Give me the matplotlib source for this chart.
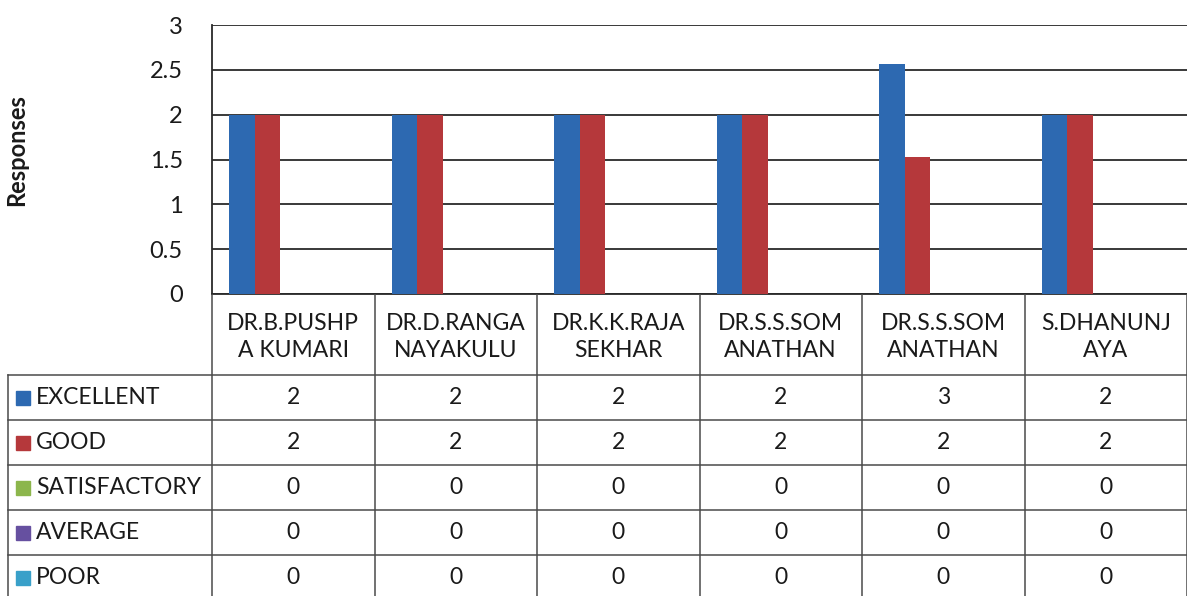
import numpy as np
import matplotlib
matplotlib.use('Agg')
import matplotlib.pyplot as plt

plt.rcParams['font.family'] = ['Lato', 'DejaVu Sans']

# --- data
teachers = ['DR.B.PUSHP\nA KUMARI', 'DR.D.RANGA\nNAYAKULU', 'DR.K.K.RAJA\nSEKHAR',
            'DR.S.S.SOM\nANATHAN', 'DR.S.S.SOM\nANATHAN', 'S.DHANUNJ\nAYA']
series = ['EXCELLENT', 'GOOD', 'SATISFACTORY', 'AVERAGE', 'POOR']
colors = ['#2d69b1', '#b5383b', '#8cb64c', '#6650a0', '#39a0c9']

# bar heights (as drawn)
excellent = [2, 2, 2, 2, 2.57, 2]
good = [2, 2, 2, 2, 1.53, 2]
satisfactory = [0, 0, 0, 0, 0, 0]
average = [0, 0, 0, 0, 0, 0]
poor = [0, 0, 0, 0, 0, 0]

# values printed in the data table (rounded)
excellent_tbl = [2, 2, 2, 2, 3, 2]
good_tbl = [2, 2, 2, 2, 2, 2]
satisfactory_tbl = [0, 0, 0, 0, 0, 0]
average_tbl = [0, 0, 0, 0, 0, 0]
poor_tbl = [0, 0, 0, 0, 0, 0]

bars = [excellent, good, satisfactory, average, poor]
table = [excellent_tbl, good_tbl, satisfactory_tbl, average_tbl, poor_tbl]

W, H = 1187, 596
fig = plt.figure(figsize=(W / 100, H / 100), dpi=100)

# plot area in pixels
x0, x1 = 212, 1187
y_top, y_bot = 25, 294
colw = (x1 - x0) / len(teachers)
txt = '#1a1a1a'

ax = fig.add_axes([x0 / W, (H - y_bot) / H, (x1 - x0) / W, (y_bot - y_top) / H])
n = len(teachers)
xs = np.arange(n) + 0.5
w = 0.157
for k, vals in enumerate(bars):
    ax.bar(xs + (k - 2) * w, vals, width=w, color=colors[k], linewidth=0, zorder=3)

ax.set_xlim(0, n)
ax.set_ylim(0, 3)
ax.set_yticks(np.arange(0, 3.01, 0.5))
ax.set_yticklabels(['0', '0.5', '1', '1.5', '2', '2.5', '3'])
ax.set_xticks([])
ax.yaxis.grid(True, color='#2a2a2a', linewidth=1.3, zorder=0)
ax.tick_params(axis='y', length=0, pad=21, labelsize=17, labelcolor=txt)
for s in ['top', 'right']:
    ax.spines[s].set_visible(False)
for s in ['left', 'bottom']:
    ax.spines[s].set_color('#2a2a2a')
    ax.spines[s].set_linewidth(1.3)

fig.text(17 / W, (H - 150) / H, 'Responses', rotation=90, fontsize=17,
         fontweight='bold', ha='center', va='center', color=txt)

# --- data table below the plot
rowh = 45.0
header_h = (375 - y_bot) / rowh
tax = fig.add_axes([0, 0, 1, (H - y_bot) / H])
tax.set_xlim(-x0 / colw, n)
tax.set_ylim((H - y_bot) / rowh, 0)
tax.axis('off')

lc = '#4a4a4a'
leg_left = -(x0 - 8) / colw
bottom = (H - y_bot) / rowh + 0.2
for i in range(n + 1):
    tax.plot([i, i], [0, bottom], color=lc, lw=1.1)
tax.plot([leg_left, leg_left], [header_h, bottom], color=lc, lw=1.1)
tax.plot([leg_left, n], [header_h, header_h], color=lc, lw=1.1)
for r in range(1, len(series) + 1):
    tax.plot([leg_left, n], [header_h + r, header_h + r], color=lc, lw=1.1)

for i, name in enumerate(teachers):
    tax.text(i + 0.5, header_h / 2 + 0.05, name, ha='center', va='center',
             fontsize=16.5, linespacing=1.35, color=txt)

for r, (lab, vals) in enumerate(zip(series, table)):
    yc = header_h + r + 0.5
    tax.plot((23 - x0) / colw, yc, marker='s', ms=10, color=colors[r], linestyle='none')
    tax.text((36 - x0) / colw, yc, lab, ha='left', va='center', fontsize=16.5, color=txt)
    for i, v in enumerate(vals):
        tax.text(i + 0.5, yc, str(v), ha='center', va='center', fontsize=16.5, color=txt)

fig.savefig('out.png', dpi=100, facecolor='white')
